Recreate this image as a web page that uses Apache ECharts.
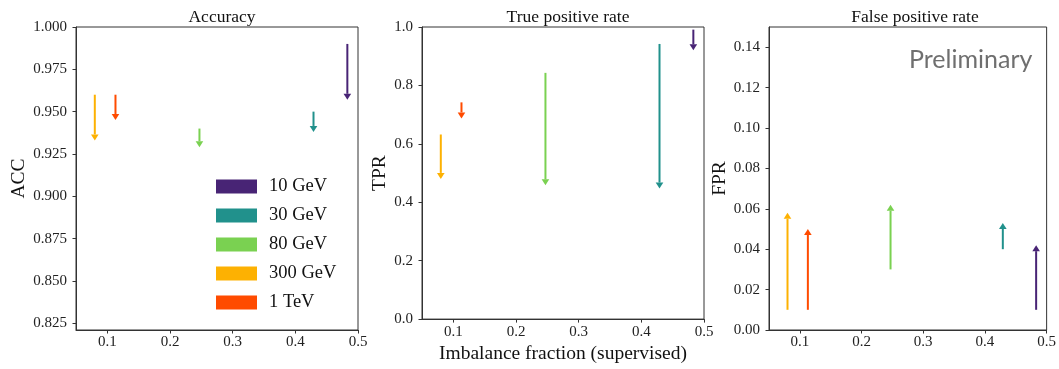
<!DOCTYPE html>
<html>
<head>
<meta charset="utf-8">
<script src="https://cdn.jsdelivr.net/npm/echarts@6/dist/echarts.min.js"></script>
<style>
  html, body { margin: 0; padding: 0; background: #fff; }
  #chart { width: 1059px; height: 369px; }
</style>
</head>
<body>
<div id="chart"></div>
<script>
// Arrows go from the baseline metric to the new one, per signal mass point.
const energies = ['10 GeV', '30 GeV', '80 GeV', '300 GeV', '1 TeV'];
const imbalance = [0.483, 0.429, 0.247, 0.080, 0.113];

const accFrom = [0.990, 0.950, 0.940, 0.960, 0.960];
const accTo   = [0.957, 0.938, 0.929, 0.933, 0.945];

const tprFrom = [0.991, 0.942, 0.843, 0.632, 0.742];
const tprTo   = [0.920, 0.447, 0.458, 0.480, 0.687];

const fprFrom = [0.010, 0.040, 0.030, 0.010, 0.010];
const fprTo   = [0.042, 0.053, 0.062, 0.058, 0.050];

const xTicks   = [0.1, 0.2, 0.3, 0.4, 0.5];
const accTicks = [0.825, 0.850, 0.875, 0.900, 0.925, 0.950, 0.975, 1.000];
const tprTicks = [0.0, 0.2, 0.4, 0.6, 0.8, 1.0];
const fprTicks = [0.00, 0.02, 0.04, 0.06, 0.08, 0.10, 0.12, 0.14];

const palette = ['#482475', '#21918c', '#7ad151', '#fdb102', '#ff4b00'];
const serif = '"Liberation Serif", "DejaVu Serif", serif';
const ink = '#333333';

const chart = echarts.init(document.getElementById('chart'), null, { renderer: 'canvas' });

const panels = [
  { title: 'Accuracy', name: 'ACC', from: accFrom, to: accTo, ticks: accTicks, min: 0.821, max: 1.0, digits: 3, left: 76, gap: 46 },
  { title: 'True positive rate', name: 'TPR', from: tprFrom, to: tprTo, ticks: tprTicks, min: 0, max: 1.0, digits: 1, left: 422, gap: 29 },
  { title: 'False positive rate', name: 'FPR', from: fprFrom, to: fprTo, ticks: fprTicks, min: 0, max: 0.15, digits: 2, left: 769, gap: 38 }
];
const gridTop = 27, gridHeight = 303, gridWidth = 282;

function renderArrow(params, api) {
  const x = api.value(0);
  const p0 = api.coord([x, api.value(1)]);
  const p1 = api.coord([x, api.value(2)]);
  const dir = p1[1] > p0[1] ? 1 : -1;
  const headLen = 6, headHalf = 3.8;
  const base = p1[1] - dir * headLen;
  const color = api.visual('color');
  return {
    type: 'group',
    children: [
      { type: 'line', shape: { x1: p0[0], y1: p0[1], x2: p1[0], y2: base },
        style: { stroke: color, lineWidth: 2 } },
      { type: 'polygon', shape: { points: [[p1[0], p1[1]], [p1[0] - headHalf, base], [p1[0] + headHalf, base]] },
        style: { fill: color } }
    ]
  };
}

const grids = [], xAxes = [], yAxes = [], titles = [], series = [];
panels.forEach((p, k) => {
  grids.push({ left: p.left, top: gridTop, width: gridWidth, height: gridHeight,
    show: true, borderColor: ink, borderWidth: 1, backgroundColor: '#fff' });
  xAxes.push({
    gridIndex: k, type: 'value', min: 0.05, max: 0.5,
    name: k === 1 ? 'Imbalance fraction (supervised)' : '',
    nameLocation: 'middle', nameGap: 16,
    nameTextStyle: { fontFamily: serif, fontSize: 19.5, color: '#111' },
    axisLine: { show: true, onZero: false, lineStyle: { color: ink, width: 1 } },
    axisTick: { show: true, length: 3.5, lineStyle: { color: ink }, customValues: xTicks },
    axisLabel: { customValues: xTicks, margin: 5, fontFamily: serif, fontSize: 15, color: '#222',
      formatter: v => v.toFixed(1) },
    splitLine: { show: false }
  });
  yAxes.push({
    gridIndex: k, type: 'value', min: p.min, max: p.max,
    name: p.name, nameLocation: 'middle', nameGap: p.gap, nameRotate: 90,
    nameTextStyle: { fontFamily: serif, fontSize: 19.5, color: '#111' },
    axisLine: { show: true, onZero: false, lineStyle: { color: ink, width: 1 } },
    axisTick: { show: true, length: 3.5, lineStyle: { color: ink }, customValues: p.ticks },
    axisLabel: { customValues: p.ticks, margin: 9, fontFamily: serif, fontSize: 15, color: '#222',
      formatter: v => v.toFixed(p.digits) },
    splitLine: { show: false }
  });
  titles.push({ text: p.title, left: p.left + gridWidth / 2, top: 3, textAlign: 'center',
    textStyle: { fontFamily: serif, fontSize: 17.5, fontWeight: 'normal', color: '#111' } });
  energies.forEach((e, i) => {
    series.push({
      type: 'custom', name: e, xAxisIndex: k, yAxisIndex: k,
      itemStyle: { color: palette[i] },
      renderItem: renderArrow, clip: false,
      encode: { x: 0, y: [1, 2] },
      data: [[imbalance[i], p.from[i], p.to[i]]]
    });
  });
});

chart.setOption({
  animation: false,
  backgroundColor: '#ffffff',
  title: titles,
  grid: grids,
  xAxis: xAxes,
  yAxis: yAxes,
  legend: {
    data: energies, orient: 'vertical', left: 216, top: 177, padding: 0,
    icon: 'rect', itemWidth: 41, itemHeight: 14, itemGap: 10,
    selectedMode: false,
    textStyle: { fontFamily: serif, fontSize: 18.5, color: '#111', padding: [0, 0, 0, 7] }
  },
  graphic: [{
    type: 'text', left: 909, top: 47,
    style: { text: 'Preliminary', fontFamily: 'Lato, "Open Sans", sans-serif', fontSize: 25, fill: '#6f6f6f' }
  }],
  series: series
});
</script>
</body>
</html>
